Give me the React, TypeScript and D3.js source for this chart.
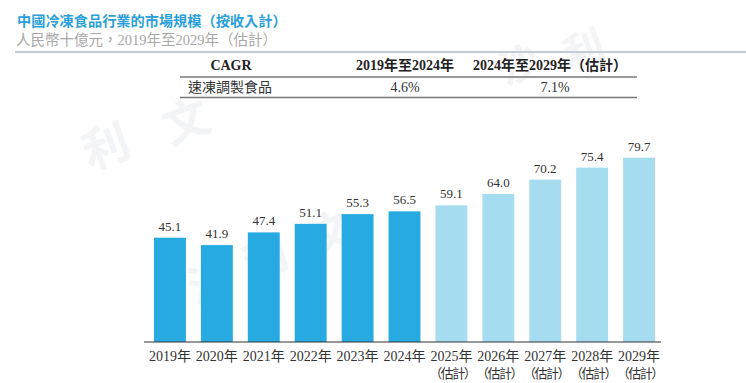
import React from "react";
import * as d3 from "d3";

const years = ["2019年", "2020年", "2021年", "2022年", "2023年", "2024年", "2025年", "2026年", "2027年", "2028年", "2029年"];
const values = [45.1, 41.9, 47.4, 51.1, 55.3, 56.5, 59.1, 64.0, 70.2, 75.4, 79.7];
const estimated = [false, false, false, false, false, false, true, true, true, true, true];
const valueLabels = ["45.1", "41.9", "47.4", "51.1", "55.3", "56.5", "59.1", "64.0", "70.2", "75.4", "79.7"];

const title = "中國冷凍食品行業的市場規模（按收入計）";
const subtitle = "人民幣十億元，2019年至2029年（估計）";
const cagrHeader = ["CAGR", "2019年至2024年", "2024年至2029年（估計）"];
const cagrRow = ["速凍調製食品", "4.6%", "7.1%"];
const estLabel = "（估計）";

const watermarks = [
  { t: "利", x: 90, y: 170, s: 46 },
  { t: "文", x: 170, y: 145, s: 46 },
  { t: "沙", x: 505, y: 85, s: 40 },
  { t: "利", x: 570, y: 70, s: 40 },
  { t: "沙", x: 195, y: 305, s: 44 },
  { t: "利", x: 250, y: 280, s: 44 },
  { t: "文", x: 315, y: 255, s: 44 },
];

const serif = "'Liberation Serif', 'Times New Roman', 'Noto Sans CJK TC', serif";
const cjk = "'Liberation Serif', 'Noto Sans CJK TC', serif";

export default function App() {
  const x = d3.scaleBand<string>().domain(years).range([146.5, 662.5]).paddingInner(0.32).paddingOuter(0.16);
  const y = d3.scaleLinear().domain([0, 80]).range([342, 157]);
  const dark = "#27a9e1";
  const light = "#a6dcef";
  return (
    <svg width={746} height={383} style={{ position: "absolute", left: 0, top: 0, background: "#fff" }}>
      {watermarks.map((w, i) => (
        <text key={i} x={w.x} y={w.y} fontSize={w.s} fontWeight={700} fill="#f3f4f6" fontFamily="'Noto Sans CJK TC'" transform={`rotate(-20 ${w.x} ${w.y})`}>{w.t}</text>
      ))}
      <text x={17} y={26} fontSize={14.2} fontWeight={700} fill="#2a9fd8" fontFamily="'Noto Sans CJK TC', serif">{title}</text>
      <text x={16} y={45} fontSize={14.5} fill="#a8a8a8" fontFamily={cjk}>{subtitle}</text>
      <line x1={15} x2={746} y1={52} y2={52} stroke="#c5cbdc" strokeWidth={2} />

      <text x={231} y={70} fontSize={14} fontWeight={700} fill="#222" textAnchor="middle" fontFamily={serif}>{cagrHeader[0]}</text>
      <text x={405} y={70} fontSize={14} fontWeight={700} fill="#222" textAnchor="middle" fontFamily={cjk}>{cagrHeader[1]}</text>
      <text x={550} y={70} fontSize={14} fontWeight={700} fill="#222" textAnchor="middle" fontFamily={cjk}>{cagrHeader[2]}</text>
      <line x1={180} x2={637} y1={77} y2={77} stroke="#777" strokeWidth={1.5} />
      <text x={188} y={92} fontSize={14} fill="#333" fontFamily={cjk}>{cagrRow[0]}</text>
      <text x={405} y={92} fontSize={14} fill="#333" textAnchor="middle" fontFamily={serif}>{cagrRow[1]}</text>
      <text x={555} y={92} fontSize={14} fill="#333" textAnchor="middle" fontFamily={serif}>{cagrRow[2]}</text>
      <line x1={180} x2={637} y1={97.5} y2={97.5} stroke="#777" strokeWidth={1.5} />

      {years.map((yr, i) => {
        const cx = (x(yr) as number) + x.bandwidth() / 2;
        return (
          <g key={yr}>
            <rect x={x(yr)} y={y(values[i])} width={x.bandwidth()} height={y(0) - y(values[i])} fill={estimated[i] ? light : dark} />
            <text x={cx} y={y(values[i]) - 7} fontSize={13} fill="#333" textAnchor="middle" fontFamily={serif}>{valueLabels[i]}</text>
            <text x={cx} y={361} fontSize={14} fill="#333" textAnchor="middle" fontFamily={cjk}>{yr}</text>
            {estimated[i] && (
              <text x={cx + 0.75} y={378} fontSize={13} letterSpacing={-1.5} fill="#333" textAnchor="middle" fontFamily={cjk}>{estLabel}</text>
            )}
          </g>
        );
      })}
      <line x1={144} x2={661} y1={342} y2={342} stroke="#333" strokeWidth={1.2} />
    </svg>
  );
}
